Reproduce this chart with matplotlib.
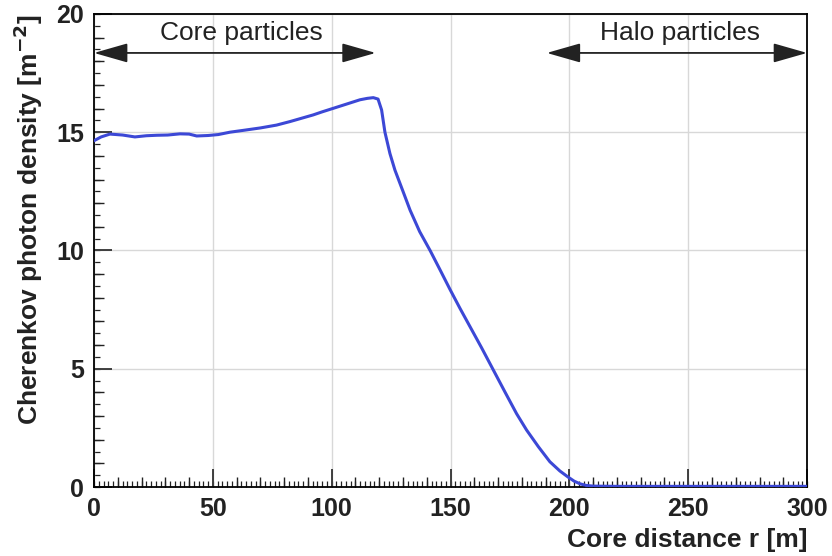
import numpy as np
import matplotlib.pyplot as plt
from matplotlib.ticker import MultipleLocator

plt.rcParams['font.family'] = ['Liberation Sans', 'DejaVu Sans']

r = [0, 3, 6.7, 12, 17.2, 22, 26.4, 31, 36.2, 40, 43.2, 48, 52.3, 57.2, 63, 70, 76.8,
     82.5, 87, 92.2, 96, 100.7, 106, 111.9, 115, 117.5, 119.5, 121, 122.4, 124.5,
     126.6, 130, 133, 137, 141.4, 145.5, 149.8, 154, 158.2, 163, 168, 173, 177.8,
     182, 187, 191.8, 196, 199.5, 202, 204.4, 207, 210, 220, 240, 260, 280, 300]
density = [14.64, 14.8, 14.92, 14.88, 14.8, 14.85, 14.87, 14.88, 14.93, 14.92, 14.84,
           14.86, 14.9, 15.0, 15.08, 15.18, 15.3, 15.45, 15.58, 15.73, 15.86, 16.01,
           16.18, 16.37, 16.43, 16.46, 16.4, 15.94, 15.0, 14.1, 13.4, 12.5, 11.7,
           10.8, 10.0, 9.2, 8.35, 7.55, 6.78, 5.9, 4.95, 4.0, 3.1, 2.41, 1.7, 1.07,
           0.68, 0.42, 0.25, 0.14, 0.07, 0.04, 0.03, 0.03, 0.03, 0.03, 0.03]

txt = '#222222'

fig = plt.figure(figsize=(8.32, 5.56), dpi=100)
ax = fig.add_axes([0.113, 0.124, 0.857, 0.851])

ax.plot(r, density, color='#3c48d6', lw=2.2, zorder=3)

ax.set_xlim(0, 300)
ax.set_ylim(0, 20)
ax.xaxis.set_major_locator(MultipleLocator(50))
ax.xaxis.set_minor_locator(MultipleLocator(10))
ax.yaxis.set_major_locator(MultipleLocator(5))
ax.yaxis.set_minor_locator(MultipleLocator(1))
ax.tick_params(which='major', direction='in', length=13, width=1.2, colors=txt,
               labelsize=18, pad=7)
ax.tick_params(which='minor', direction='in', length=7, width=1.0, colors=txt)
for lab in ax.get_xticklabels() + ax.get_yticklabels():
    lab.set_fontweight('bold')
ax.grid(True, which='major', color='#d8d8d8', lw=1.0)
ax.set_axisbelow(True)
for s in ax.spines.values():
    s.set_linewidth(1.3)
    s.set_color('black')

# smallest ticks
sx = ax.secondary_xaxis('bottom')
sx.set_xticks(np.arange(0, 301, 2))
sx.tick_params(direction='in', length=4, width=0.9, colors=txt, labelbottom=False)
sx.spines['bottom'].set_visible(False)
sy = ax.secondary_yaxis('left')
sy.set_yticks(np.arange(0, 20.1, 0.5))
sy.tick_params(direction='in', length=4, width=0.9, colors=txt, labelleft=False)
sy.spines['left'].set_visible(False)

ax.set_xlabel('Core distance r [m]', fontsize=19, fontweight='bold', color=txt,
              loc='right', labelpad=5)
ax.set_ylabel('Cherenkov photon density [m$^{\\mathbf{-2}}$]', fontsize=19,
              fontweight='bold', color=txt, loc='top', labelpad=8)

arrow = dict(arrowstyle='<|-|>,head_length=1.4,head_width=0.4', color=txt, lw=1.3,
             shrinkA=0, shrinkB=0, mutation_scale=15)
ax.annotate('', xy=(0, 18.35), xytext=(118.5, 18.35), arrowprops=arrow,
            annotation_clip=False)
ax.text(62, 19.2, 'Core particles', ha='center', va='center', fontsize=19, color=txt)
ax.annotate('', xy=(190.5, 18.35), xytext=(300, 18.35), arrowprops=arrow,
            annotation_clip=False)
ax.text(246.5, 19.2, 'Halo particles', ha='center', va='center', fontsize=19, color=txt)

fig.savefig('out.png', dpi=100)
